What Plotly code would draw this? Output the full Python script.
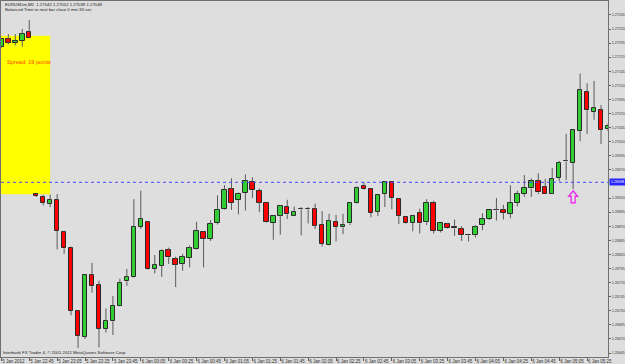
import plotly.graph_objects as go

# ---- data (EURUSDm, M5) ----
opens = [1.27189, 1.27202, 1.27195, 1.27199, 1.27214, 1.26927, 1.26922, 1.26910, 1.26917, 1.26860,
         1.26832, 1.26720, 1.26674, 1.26783, 1.26765, 1.26688, 1.26701, 1.26729, 1.26772, 1.26780,
         1.26869, 1.26878, 1.26794, 1.26800, 1.26827, 1.26812, 1.26803, 1.26814, 1.26829, 1.26860,
         1.26848, 1.26876, 1.26900, 1.26936, 1.26917, 1.26929, 1.26949, 1.26933, 1.26912, 1.26876,
         1.26889, 1.26905, 1.26889, 1.26901, 1.26901, 1.26900, 1.26873, 1.26837, 1.26878, 1.26868,
         1.26875, 1.26911, 1.26941, 1.26936, 1.26895, 1.26927, 1.26949, 1.26919, 1.26886, 1.26876,
         1.26894, 1.26877, 1.26911, 1.26862, 1.26874, 1.26869, 1.26865, 1.26854, 1.26854, 1.26872,
         1.26883, 1.26898, 1.26899, 1.26892, 1.26912, 1.26928, 1.26937, 1.26950, 1.26939, 1.26928,
         1.26956, 1.26985, 1.26983, 1.27039, 1.27109, 1.27073, 1.27076, 1.27042]
highs = [1.27203, 1.27211, 1.27211, 1.27220, 1.27236, 1.26928, 1.26926, 1.26926, 1.26927, 1.26862,
         1.26834, 1.26721, 1.26784, 1.26805, 1.26773, 1.26724, 1.26746, 1.26777, 1.26794, 1.26918,
         1.26933, 1.26879, 1.26819, 1.26829, 1.26832, 1.26816, 1.26821, 1.26836, 1.26878, 1.26861,
         1.26881, 1.26925, 1.26943, 1.26955, 1.26930, 1.26962, 1.26957, 1.26937, 1.26913, 1.26890,
         1.26907, 1.26917, 1.26905, 1.26904, 1.26904, 1.26910, 1.26897, 1.26892, 1.26890, 1.26892,
         1.26912, 1.26941, 1.26948, 1.26937, 1.26926, 1.26950, 1.26950, 1.26920, 1.26887, 1.26889,
         1.26901, 1.26918, 1.26915, 1.26876, 1.26876, 1.26882, 1.26870, 1.26856, 1.26872, 1.26893,
         1.26899, 1.26920, 1.26908, 1.26943, 1.26933, 1.26961, 1.26955, 1.26964, 1.26954, 1.26973,
         1.26986, 1.27034, 1.27041, 1.27141, 1.27124, 1.27128, 1.27085, 1.27052]
lows = [1.27187, 1.27193, 1.27191, 1.27189, 1.27204, 1.26922, 1.26907, 1.26904, 1.26829, 1.26821,
        1.26712, 1.26654, 1.26670, 1.26752, 1.26655, 1.26681, 1.26677, 1.26728, 1.26764, 1.26779,
        1.26865, 1.26793, 1.26786, 1.26780, 1.26803, 1.26762, 1.26791, 1.26797, 1.26828, 1.26797,
        1.26844, 1.26873, 1.26899, 1.26899, 1.26891, 1.26898, 1.26920, 1.26895, 1.26876, 1.26846,
        1.26855, 1.26883, 1.26888, 1.26854, 1.26875, 1.26865, 1.26834, 1.26836, 1.26843, 1.26856,
        1.26872, 1.26910, 1.26935, 1.26886, 1.26888, 1.26904, 1.26900, 1.26874, 1.26874, 1.26861,
        1.26857, 1.26872, 1.26857, 1.26859, 1.26866, 1.26853, 1.26844, 1.26843, 1.26850, 1.26863,
        1.26881, 1.26880, 1.26882, 1.26884, 1.26905, 1.26922, 1.26922, 1.26927, 1.26927, 1.26927,
        1.26950, 1.26952, 1.26936, 1.27021, 1.27034, 1.27059, 1.27016, 1.27039]
closes = [1.27202, 1.27196, 1.27199, 1.27211, 1.27205, 1.26924, 1.26912, 1.26917, 1.26862, 1.26831,
          1.26720, 1.26676, 1.26783, 1.26764, 1.26688, 1.26702, 1.26729, 1.26770, 1.26780, 1.26869,
          1.26882, 1.26794, 1.26801, 1.26826, 1.26815, 1.26802, 1.26815, 1.26831, 1.26861, 1.26847,
          1.26874, 1.26899, 1.26934, 1.26912, 1.26928, 1.26950, 1.26934, 1.26912, 1.26877, 1.26889,
          1.26906, 1.26891, 1.26896, 1.26900, 1.26900, 1.26871, 1.26839, 1.26879, 1.26869, 1.26873,
          1.26911, 1.26937, 1.26936, 1.26894, 1.26925, 1.26949, 1.26920, 1.26889, 1.26875, 1.26888,
          1.26875, 1.26911, 1.26862, 1.26875, 1.26867, 1.26866, 1.26854, 1.26855, 1.26869, 1.26882,
          1.26898, 1.26899, 1.26894, 1.26912, 1.26927, 1.26937, 1.26951, 1.26930, 1.26928, 1.26954,
          1.26983, 1.26986, 1.27040, 1.27111, 1.27076, 1.27079, 1.27041, 1.27048]

time_tick_index = [0, 4, 8, 12, 16, 20, 24, 28, 32, 36, 40, 44, 48, 52, 56, 60, 64, 68, 72, 76, 80, 84]
time_tick_labels = ["5 Jan 2012", "5 Jan 22:45", "5 Jan 23:05", "5 Jan 23:25", "5 Jan 23:45",
                    "6 Jan 00:05", "6 Jan 00:25", "6 Jan 00:45", "6 Jan 01:05", "6 Jan 01:25",
                    "6 Jan 01:45", "6 Jan 02:05", "6 Jan 02:25", "6 Jan 02:45", "6 Jan 03:05",
                    "6 Jan 03:25", "6 Jan 03:45", "6 Jan 04:05", "6 Jan 04:25", "6 Jan 04:45",
                    "6 Jan 05:05", "6 Jan 05:25"]
price_ticks = [1.26645, 1.26670, 1.26695, 1.26720, 1.26745, 1.26770, 1.26795, 1.26820, 1.26845,
               1.26870, 1.26895, 1.26920, 1.26970, 1.26995, 1.27020, 1.27045, 1.27070, 1.27095,
               1.27120, 1.27145, 1.27170, 1.27195, 1.27220, 1.27245]

hline_price = 1.26948
spread_box = {"x_end": 7.0, "low": 1.26927, "high": 1.27208}
arrow_index = 82
arrow_price = 1.26933
header_ohlc = "1.27042 1.27052 1.27039 1.27048"

# ---- styling ----
BG = "#dedede"
GREEN = "#32cd32"
RED = "#ff0000"
FONT = "Liberation Sans, Arial, sans-serif"

idx = list(range(len(opens)))

# wicks drawn as two segments each so they never cross the body
wx, wy = [], []
for i in idx:
    top = max(opens[i], closes[i])
    bot = min(opens[i], closes[i])
    if highs[i] > top:
        wx += [i, i, None]
        wy += [top, highs[i], None]
    if lows[i] < bot:
        wx += [i, i, None]
        wy += [bot, lows[i], None]

body_colors = [GREEN if c >= o else RED for o, c in zip(opens, closes)]

fig = go.Figure()
fig.add_trace(go.Scatter(x=wx, y=wy, mode="lines", line=dict(color="#5a5a5a", width=1),
                         hoverinfo="skip", showlegend=False))
fig.add_trace(go.Bar(x=idx, base=opens, y=[c - o for o, c in zip(opens, closes)],
                     width=0.64, marker=dict(color=body_colors, line=dict(color="#2a2a2a", width=1)),
                     showlegend=False))

# yellow spread box
fig.add_shape(type="rect", xref="x", yref="y", x0=-2, x1=spread_box["x_end"],
              y0=spread_box["low"], y1=spread_box["high"], fillcolor="#ffff00",
              line=dict(width=0), layer="below")
# horizontal dotted line
fig.add_shape(type="line", xref="paper", yref="y", x0=0, x1=1, y0=hline_price, y1=hline_price,
              line=dict(color="#4646ff", width=1, dash="dot"))
# arrow below candle
fig.add_shape(type="path", xref="x", yref="y", xsizemode="pixel", ysizemode="pixel",
              xanchor=arrow_index, yanchor=arrow_price,
              path="M 0,0 L 4.5,-5.5 L 2,-5.5 L 2,-12 L -2,-12 L -2,-5.5 L -4.5,-5.5 Z",
              line=dict(color="#f028f0", width=1.3))

ann = []
ann.append(dict(xref="paper", yref="paper", x=0.003, y=0.989, xanchor="left", yanchor="middle",
                text="EURUSDm,M5  " + header_ohlc, showarrow=False,
                font=dict(size=4.3, color="#202020", family=FONT)))
ann.append(dict(xref="paper", yref="paper", x=0.003, y=0.976, xanchor="left", yanchor="middle",
                text="Balanced Time to next bar close 0 min 33 sec", showarrow=False,
                font=dict(size=4.3, color="#202020", family=FONT)))
ann.append(dict(xref="paper", yref="paper", x=0.007, y=0.829, xanchor="left", yanchor="middle",
                text="Spread: 19 points", showarrow=False,
                font=dict(size=5.6, color="#ff4500", family=FONT)))
ann.append(dict(xref="paper", yref="paper", x=0.0, y=0.014, xanchor="left", yanchor="middle",
                text="Interbank FX Trader 4, \u00a9 2001-2011 MetaQuotes Software Corp.", showarrow=False,
                font=dict(size=4.3, color="#202020", family=FONT)))
ann.append(dict(xref="paper", yref="y", x=1.0, y=hline_price, xanchor="left", yanchor="middle",
                xshift=1, text="%.5f" % hline_price, showarrow=False, bgcolor="#2828ff",
                borderpad=1, font=dict(size=3.6, color="#ffffff", family=FONT)))

fig.update_layout(
    width=625, height=364,
    margin=dict(l=1, r=17, t=1, b=7),
    paper_bgcolor=BG, plot_bgcolor=BG,
    bargap=0, showlegend=False,
    annotations=ann,
    xaxis=dict(range=[-0.05, 87.0], showgrid=False, zeroline=False, automargin=False,
               tickmode="array", tickvals=time_tick_index, ticktext=time_tick_labels,
               tickangle=0, ticks="outside", ticklen=3, tickcolor="#606060",
               ticklabelposition="outside right",
               tickfont=dict(size=4.5, color="#303030", family=FONT),
               showline=True, linecolor="#707070", linewidth=1, mirror=True),
    yaxis=dict(range=[1.266379, 1.272698], side="right", showgrid=False, zeroline=False,
               automargin=False,
               tickmode="array", tickvals=price_ticks, ticktext=["%.5f" % p for p in price_ticks],
               ticks="outside", ticklen=2, tickcolor="#606060",
               tickfont=dict(size=3.6, color="#303030", family=FONT),
               showline=True, linecolor="#707070", linewidth=1, mirror=True),
)

fig.write_html("out.html")
